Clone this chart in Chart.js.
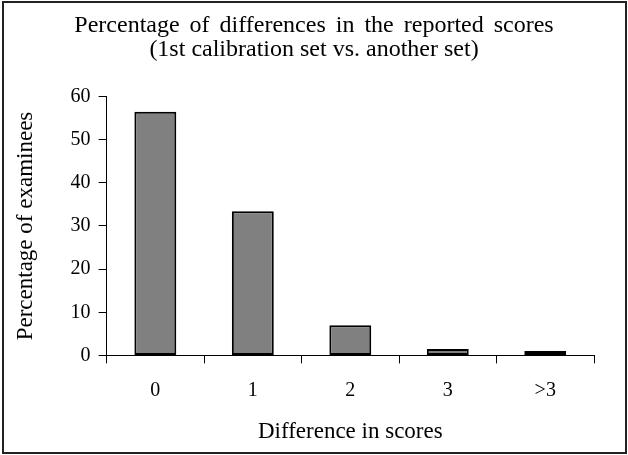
<!DOCTYPE html>
<html>
<head>
<meta charset="utf-8">
<script src="https://cdn.jsdelivr.net/npm/chart.js@4.4.1/dist/chart.umd.min.js"></script>
<style>
  html, body { margin: 0; padding: 0; background: #fff; }
  #wrap { width: 628px; height: 455px; position: relative; }
</style>
</head>
<body>
<div id="wrap"><canvas id="chart"></canvas></div>
<script>
// --- data
const categories = ["0", "1", "2", "3", ">3"];
const percentages = [56.5, 33.4, 7.0, 1.5, 1.0];
const yTicks = [0, 10, 20, 30, 40, 50, 60];
const titleLine = "Percentage of differences in the reported scores";
const subtitleLine = "(1st calibration set vs. another set)";

const serif = "'Liberation Serif', 'Times New Roman', serif";

// outer frame around the whole picture
const framePlugin = {
  id: "frame",
  afterDraw(chart) {
    const c = chart.ctx;
    c.save();
    c.strokeStyle = "#222";
    c.lineWidth = 2;
    c.strokeRect(3, 2, 623, 451);
    c.restore();
  }
};

// first title line is set with slightly wider word gaps
const titleSpacing = {
  id: "titleSpacing",
  afterLayout(chart) {
    const t = chart.titleBlock;
    if (!t || t._spaced) return;
    const draw = t.draw.bind(t);
    t.draw = (...a) => {
      chart.ctx.wordSpacing = "4px";
      draw(...a);
      chart.ctx.wordSpacing = "0px";
    };
    t._spaced = true;
  }
};

new Chart(document.getElementById("chart"), {
  type: "bar",
  data: {
    labels: categories,
    datasets: [{
      data: percentages,
      backgroundColor: "#808080",
      borderColor: "#000",
      borderWidth: 2,
      borderSkipped: false,
      barPercentage: 0.43,
      categoryPercentage: 1
    }]
  },
  options: {
    responsive: true,
    maintainAspectRatio: false,
    animation: false,
    layout: { padding: { left: 34, right: 34, top: 0, bottom: 9 } },
    plugins: {
      legend: { display: false },
      tooltip: { enabled: false },
      title: {
        display: true,
        text: titleLine,
        color: "#000",
        font: { family: serif, size: 24, weight: "normal", lineHeight: 1.2 },
        padding: { top: 11, bottom: 0 }
      },
      subtitle: {
        display: true,
        text: subtitleLine,
        color: "#000",
        font: { family: serif, size: 24, weight: "normal", lineHeight: 1.2 },
        padding: { top: -4, bottom: 32 }
      }
    },
    scales: {
      x: {
        grid: { drawOnChartArea: false, drawTicks: true, tickLength: 8, color: "#000" },
        border: { color: "#000", width: 1 },
        ticks: { color: "#000", font: { family: serif, size: 20 }, padding: 15 },
        title: {
          display: true,
          text: "Difference in scores",
          color: "#000",
          font: { family: serif, size: 23 },
          padding: { top: 1, bottom: 0 }
        }
      },
      y: {
        min: 0,
        max: 60,
        afterBuildTicks: axis => { axis.ticks = yTicks.map(v => ({ value: v })); },
        grid: { drawOnChartArea: false, drawTicks: true, tickLength: 8, color: "#000" },
        border: { color: "#000", width: 1 },
        ticks: { color: "#000", font: { family: serif, size: 20 }, padding: 8 },
        title: {
          display: true,
          text: "Percentage of examinees",
          color: "#000",
          font: { family: serif, size: 23 },
          padding: { top: -22, bottom: 23 }
        }
      }
    }
  },
  plugins: [framePlugin, titleSpacing]
});
</script>
</body>
</html>
